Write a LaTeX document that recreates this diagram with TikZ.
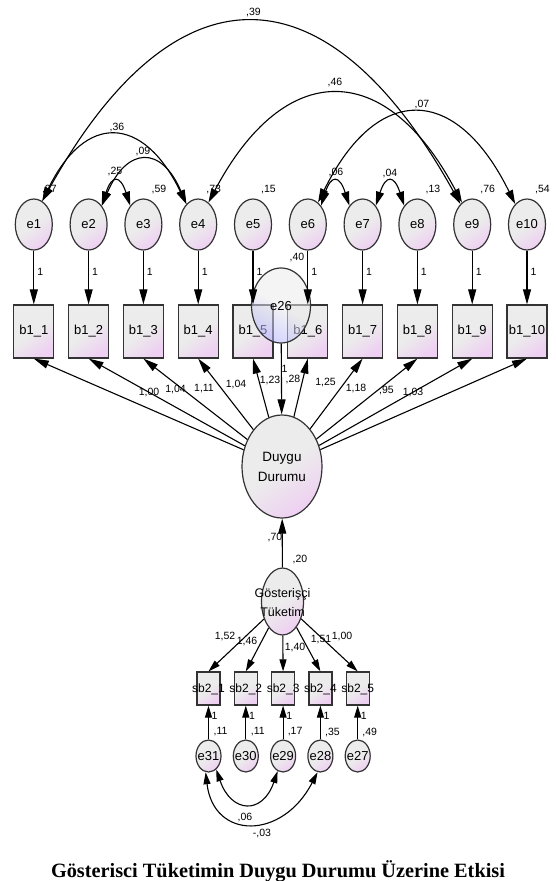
\documentclass[tikz,border=0pt]{standalone}
\usepackage{fontspec}
\setmainfont{Liberation Sans}
\newfontfamily\titlefont{Liberation Serif}
\usetikzlibrary{arrows.meta,shapes.geometric}
\definecolor{amospink}{RGB}{238,208,242}
\definecolor{amosgrey}{RGB}{236,236,236}
\tikzset{
  shadefill/.style={top color=amosgrey, bottom color=amospink, middle color=amosgrey, shading angle=35},
  lat/.style={ellipse, draw=black!80, line width=1.2pt, inner sep=0pt, minimum width=37pt, minimum height=51pt, shadefill, font=\fontsize{13}{14}\selectfont},
  slat/.style={lat, minimum width=25pt, minimum height=32pt},
  obs/.style={rectangle, draw=black!80, line width=1.2pt, inner sep=0pt, minimum width=40pt, minimum height=53pt, shadefill, font=\fontsize{13}{14}\selectfont},
  sobs/.style={obs, minimum width=23pt, minimum height=33pt},
  txt/.style={inner sep=0pt, font=\fontsize{13}{14}\selectfont},
  arr/.style={-{Triangle[length=15pt,width=8pt]}, line width=1.1pt},
  sarr/.style={-{Triangle[length=12pt,width=7pt]}, line width=1.1pt},
  cov/.style={{Triangle[length=14pt,width=8pt]}-{Triangle[length=14pt,width=8pt]}, line width=1.1pt},
  scov/.style={{Triangle[length=12pt,width=7pt]}-{Triangle[length=12pt,width=7pt]}, line width=1.1pt},
  lbl/.style={inner sep=0pt, font=\fontsize{10.5}{12}\selectfont},
}
\begin{document}
\begin{tikzpicture}[x=1pt,y=-1pt]
\useasboundingbox (0,0) rectangle (556,881);
\fill[white] (0,0) rectangle (556,881);

% upper indicators and errors
\foreach \i [evaluate=\i as \cx using 33.8+54.8*(\i-1)] in {1,...,10} {
  \node[lat] (e\i) at (\cx,224.5) {e\i};
  \node[obs] (b\i) at (\cx,331.5) {b1\_\i};
}

% e26
\node[ellipse, draw=black!80, line width=1.2pt, inner sep=0pt, minimum width=59pt, minimum height=75pt,
      top color=amosgrey, bottom color=blue!30, middle color=black!8, shading angle=-30, fill opacity=0.55] (e26) at (281,305.5) {};
\node[txt] (e26t) at (281,306) {e26};

% latent factors
\node[lat, minimum width=80pt, minimum height=103pt] (du) at (282,466.5) {};
\node[txt, align=center, font=\fontsize{13.5}{20}\selectfont] (dut) at (282,467) {Duygu\\Durumu};
\node[lat, minimum width=42pt, minimum height=67pt] (gt) at (282.5,601.5) {};
\node[txt, align=center, font=\fontsize{12.5}{19}\selectfont] (gtt) at (282.5,602.5) {Gösterişçi\\Tüketim};

% lower indicators and errors
\foreach \i/\j/\cx in {1/31/208.5, 2/30/245.8, 3/29/283.1, 4/28/320.4, 5/27/357.7} {
  \node[sobs] (sb\i) at (\cx,688.5) {};
  \node[txt, font=\fontsize{12}{14}\selectfont] (sbt\i) at (\cx,689.5) {sb2\_\i};
  \node[slat] (e\j) at (\cx,756) {};
  \node[txt, font=\fontsize{13}{14}\selectfont] (et\j) at (\cx,756.5) {e\j};
}

% variance labels (upper)
\foreach \i/\t in {1/{,07}, 3/{,59}, 4/{,73}, 5/{,15}, 8/{,13}, 9/{,76}, 10/{,54}} {
  \node[lbl, anchor=base west] (v\i) at ([xshift=8pt]e\i.center |- 0,192) {\t};
}

% error -> indicator
\foreach \i in {1,...,10} {
  \draw[arr] (e\i) -- (b\i) node[lbl, pos=0.4, right=3pt] (one\i) {1};
}

% factor loadings Duygu
\foreach \i/\t/\px/\py in {1/{1,00}/149/392, 2/{1,04}/175.5/390, 3/{1,11}/204/389, 4/{1,04}/236/385,
   5/{1,23}/270/381, 6/{,28}/293/380, 7/{1,25}/325.5/383, 8/{1,18}/356/389, 9/{,95}/386.5/391, 10/{1,03}/413/393} {
  \draw[arr] (du) -- (b\i.south);
  \node[lbl] (ld\i) at (\px,\py) {\t};
}

% e26 -> Duygu
\draw[arr] (e26) -- (du);
\node[lbl] (one26) at (284.5,369) {1};
\node[lbl] (v26) at (297,258) {,40};

% Gosterisci -> Duygu
\draw[arr] (gt) -- (du);
\node[lbl] (l70) at (275,537) {,70};
\node[lbl] (v20) at (300,559) {,20};

% lower loadings and errors
\foreach \i/\j/\t/\px/\py/\v in {1/31/{1,52}/225/636/{,11}, 2/30/{1,46}/247/641/{,11}, 3/29/{1,40}/295/647/{,17},
   4/28/{1,51}/321/640/{,35}, 5/27/{1,00}/342/636/{,49}} {
  \draw[sarr] (gt) -- (sb\i.north);
  \node[lbl] (lg\i) at (\px,\py) {\t};
  \draw[sarr] (e\j) -- (sb\i.south);
  \node[lbl, anchor=west] (os\i) at ([xshift=3pt]sb\i.center |- 0,716) {1};
  \node[lbl] (vs\j) at ([xshift=12pt]sb\i.center |- 0,732) {\v};
}

% covariances (upper)
\draw[cov] (e1.70) .. controls +(133,-240) and +(-133,-240) .. (e9.120);
\draw[cov] (e4.65) .. controls +(76,-144) and +(-76,-144) .. (e9.115);
\draw[cov] (e6.65) .. controls +(59,-120) and +(-59,-120) .. (e10.120);
\draw[cov] (e1.70) .. controls +(43,-89) and +(-43,-89) .. (e4.120);
\draw[cov] (e2.55) .. controls +(25,-59) and +(-25,-59) .. (e4.120);
\draw[cov] (e2.55) .. controls +(10,-31) and +(-10,-31) .. (e3.125);
\draw[cov] (e6.55) .. controls +(10,-31) and +(-10,-31) .. (e7.125);
\draw[cov] (e7.55) .. controls +(10,-31) and +(-10,-31) .. (e8.125);
\node[lbl] (c39) at (253.5,12.7) {,39};
\node[lbl] (c46) at (335,83) {,46};
\node[lbl] (c07) at (422,105) {,07};
\node[lbl] (c36) at (117,128) {,36};
\node[lbl] (c09) at (143,152) {,09};
\node[lbl] (c25) at (115,172) {,25};
\node[lbl] (c06) at (336,173) {,06};
\node[lbl] (c04) at (390,174) {,04};

% covariances (lower)
\draw[scov] (e31.-60) .. controls +(15,44) and +(-15,44) .. (e29.-110);
\draw[scov] (e31.-100) .. controls +(8,68) and +(-35,68) .. (e28.-100);
\node[lbl] (c06b) at (245,817) {,06};
\node[lbl] (c03b) at (262,833) {-,03};

% title
\node[inner sep=0pt, anchor=base, font=\titlefont\bfseries\fontsize{20.3}{22}\selectfont] (title) at (278,877)
  {Gösterisci Tüketimin Duygu Durumu Üzerine Etkisi};
\end{tikzpicture}
\end{document}
